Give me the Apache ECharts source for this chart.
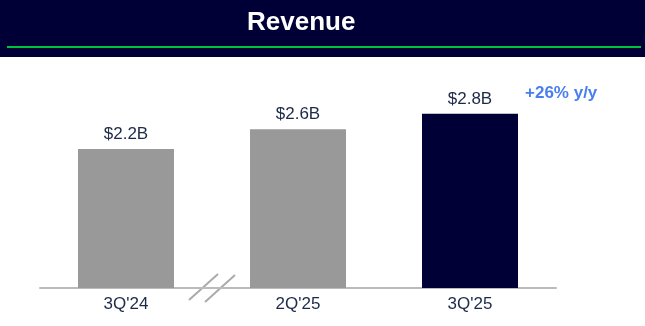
<!DOCTYPE html>
<html><head><meta charset="utf-8">
<script src="https://cdn.jsdelivr.net/npm/echarts@6/dist/echarts.min.js"></script>
<style>html,body{margin:0;padding:0;background:#fff}#c{width:645px;height:326px}</style>
</head><body><div id="c"></div>
<script>
var categories = ["3Q'24", "2Q'25", "3Q'25"];
var revenue = [2.24, 2.56, 2.81];
var valueLabels = ["$2.2B", "$2.6B", "$2.8B"];
var barColors = ["#999999", "#999999", "#000036"];
var growthText = "+26% y/y";
var titleText = "Revenue";

var chart = echarts.init(document.getElementById('c'), null, {renderer: 'canvas'});
var font = "'Liberation Sans', Arial, sans-serif";
chart.setOption({
  animation: false,
  grid: {left: 40, right: 89, top: 71, bottom: 38},
  xAxis: {
    type: 'category', data: categories,
    axisLine: {lineStyle: {color: '#bbbbbb', width: 2}},
    axisTick: {show: false},
    axisLabel: {color: '#1b2a47', fontSize: 17, fontFamily: font, margin: 8}
  },
  yAxis: {type: 'value', min: 0, max: 3.5, show: false, splitLine: {show: false}},
  series: [{
    type: 'bar', barWidth: 96,
    data: revenue.map(function (v, i) { return {value: v, itemStyle: {color: barColors[i]}}; }),
    label: {
      show: true, position: 'top', distance: 6,
      color: '#1b2a47', fontSize: 17, fontFamily: font,
      formatter: function (p) { return valueLabels[p.dataIndex]; }
    }
  }]
});

// break marks between first and second category, and growth text
var p0 = chart.convertToPixel({xAxisIndex: 0, yAxisIndex: 0}, [0, 0]);
var p1 = chart.convertToPixel({xAxisIndex: 0, yAxisIndex: 0}, [1, 0]);
var p2 = chart.convertToPixel({xAxisIndex: 0, yAxisIndex: 0}, [2, revenue[2]]);
var mx = (p0[0] + p1[0]) / 2, my = p0[1];
chart.setOption({
  graphic: [
    {type: 'rect', left: 0, top: 0, shape: {width: 645, height: 57}, style: {fill: '#000036'}},
    {type: 'rect', left: 7, top: 46, shape: {width: 634, height: 2}, style: {fill: '#00c040'}},
    {type: 'text', left: 247, top: 10, style: {text: titleText, fill: '#ffffff', font: 'bold 26px ' + font}},
    {type: 'line', shape: {x1: mx - 23, y1: my + 12, x2: mx + 6, y2: my - 14}, style: {stroke: '#aaaaaa', lineWidth: 2}},
    {type: 'line', shape: {x1: mx - 7, y1: my + 14, x2: mx + 23, y2: my - 13}, style: {stroke: '#aaaaaa', lineWidth: 2}},
    {type: 'text', x: p2[0] + 55, y: 85, style: {text: growthText, fill: '#4a7ef0', font: 'bold 17px ' + font}}
  ]
});
</script></body></html>
